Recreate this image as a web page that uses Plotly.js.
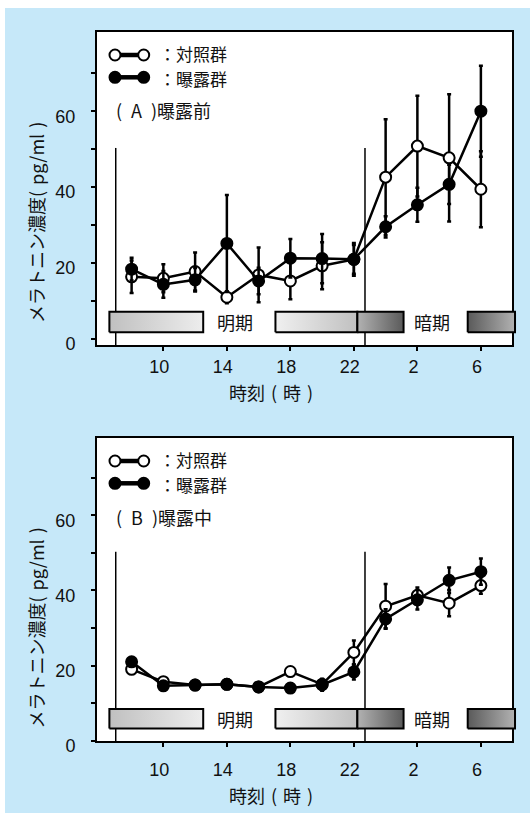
<!DOCTYPE html>
<html>
<head>
<meta charset="utf-8">
<script src="https://cdn.plot.ly/plotly-3.0.1.min.js"></script>
<style>
  html, body { margin: 0; padding: 0; background: #ffffff; }
  #chart { width: 530px; height: 813px; }
</style>
</head>
<body>
<div id="chart"></div>
<script>
// Sampling times on a continuous clock scale (24 = 0時, 26 = 2時, ...)
const hours = [8, 10, 12, 14, 16, 18, 20, 22, 24, 26, 28, 30];
const hourTicks = [10, 14, 18, 22, 26, 30];
const hourTickText = ['10', '14', '18', '22', '2', '6'];
const concTicks = [0, 10, 20, 30, 40, 50, 60, 70];
const concTickText = ['0', '', '20', '', '40', '', '60', ''];

// (A) 曝露前 : melatonin, pg/ml (mean and error)
const preControl   = [16.3, 15.9, 17.7, 10.9, 16.8, 15.2, 19.2, 20.9, 42.6, 50.8, 47.7, 39.4];
const preControlSD = [4.3, 3.7, 5.0, 1.6, 7.2, 4.8, 6.2, 3.8, 15.3, 13.3, 16.8, 10.0];
const preExposed   = [18.3, 14.3, 15.5, 25.1, 15.2, 21.2, 21.1, 20.9, 29.5, 35.3, 40.7, 60.0];
const preExposedSD = [3.0, 3.5, 3.1, 12.8, 3.5, 5.1, 6.5, 4.3, 2.8, 4.5, 5.2, 12.0];

// (B) 曝露中
const durControl   = [19.0, 15.7, 14.8, 15.0, 14.3, 18.4, 15.0, 23.5, 35.8, 38.7, 36.6, 41.3];
const durControlSD = [0.8, 0.8, 0.6, 0.6, 0.6, 0.8, 0.8, 3.2, 5.9, 2.1, 3.5, 2.2];
const durExposed   = [21.0, 14.6, 14.8, 15.0, 14.3, 14.0, 14.9, 18.3, 32.4, 37.5, 42.7, 45.0];
const durExposedSD = [0.8, 0.6, 0.6, 0.6, 0.6, 0.6, 1.6, 2.0, 2.6, 2.6, 3.4, 3.5];

// Light schedule markers (clock hours)
const lightsOn = 7.0;
const lightsOff = 22.7;

// ---------------------------------------------------------------- layout
const W = 530, H = 813;
const BLUE = '#c6e8f9';
const INK = '#111111';
const NUM_FONT = 'Liberation Sans, Arial, sans-serif';
const JP_FONT = 'Noto Sans CJK JP, sans-serif';
const SP = '\u2004';    // narrow space around the brackets
const ESP = '\u2002';   // wider space inside the panel tags

const frameLeft = 97, frameRight = 512;
const xRange = [5.82, 31.96];
const xDomain = [frameLeft / W, frameRight / W];

const panels = [
  { top: 32, bottom: 345, yRange: [-1.7, 80.9], tag: '(' + ESP + 'A' + ESP + ')曝露前',
    control: preControl, controlSD: preControlSD, exposed: preExposed, exposedSD: preExposedSD,
    xStandoff: 0, legendY: [55, 77.3], tagY: 110, yTitleY: 222.5, xTitleY: 391.7 },
  { top: 438, bottom: 741, yRange: [-0.1, 80.6], tag: '(' + ESP + 'B' + ESP + ')曝露中',
    control: durControl, controlSD: durControlSD, exposed: durExposed, exposedSD: durExposedSD,
    xStandoff: 7, legendY: [461, 483.3], tagY: 516.7, yTitleY: 628, xTitleY: 795 }
];

// light / dark bars: [start hour, end hour, left colour, right colour]
const phaseBars = [
  [6.60, 12.51, '#c0c0c0', '#ededed'],
  [17.06, 22.22, '#f0f0f0', '#c0c0c0'],
  [22.22, 25.13, '#b2b2b2', '#5a5a5a'],
  [29.17, 32.15, '#5a5a5a', '#b2b2b2']
];
const barBottom = 0.041, barTop = 0.106;   // fraction of panel height

function stretch(range, domain) {
  const k = (range[1] - range[0]) / (domain[1] - domain[0]);
  return [range[0] - domain[0] * k, range[1] + (1 - domain[1]) * k];
}

const traces = [];
const shapes = [];
const annotations = [];
const layout = {
  width: W, height: H,
  margin: { l: 0, r: 0, t: 0, b: 0, pad: 0 },
  paper_bgcolor: '#ffffff',
  plot_bgcolor: 'rgba(0,0,0,0)',
  showlegend: false,
  hovermode: false
};

// page background
shapes.push({ type: 'rect', xref: 'paper', yref: 'paper', x0: 5 / W, x1: 1, y0: 0, y1: 1 - 8 / H,
  fillcolor: BLUE, line: { width: 0 }, layer: 'below' });

// band and pixel helper axes spanning the whole page
layout.xaxis3 = { domain: [0, 1], range: stretch(xRange, xDomain), visible: false, anchor: 'y3', fixedrange: true };
layout.xaxis4 = { domain: [0, 1], range: [0, W], visible: false, anchor: 'y5', fixedrange: true };
layout.yaxis5 = { domain: [0, 1], range: [H, 0], visible: false, anchor: 'x4', fixedrange: true };

function series(vals, sd, fill, xa, ya, name) {
  return {
    type: 'scatter', mode: 'lines+markers', name: name,
    x: hours, y: vals, xaxis: xa, yaxis: ya,
    line: { color: '#000', width: 2.5 },
    marker: { size: 11, color: fill, line: { color: '#000', width: 2 } },
    error_y: { type: 'data', array: sd, visible: true, color: '#000', thickness: 2.5, width: 2 },
    cliponaxis: false, hoverinfo: 'skip'
  };
}

panels.forEach((p, i) => {
  const s = i === 0 ? '' : '2';
  const xa = 'x' + s, ya = 'y' + s;
  const yDomain = [1 - p.bottom / H, 1 - p.top / H];

  layout['xaxis' + s] = {
    domain: xDomain, range: xRange, anchor: ya,
    tickmode: 'array', tickvals: hourTicks, ticktext: hourTickText,
    ticks: 'outside', ticklen: 4, tickwidth: 2, tickcolor: '#000',
    ticklabelstandoff: p.xStandoff, ticklabelshift: -4,
    showline: true, mirror: true, linewidth: 2, linecolor: '#000',
    showgrid: false, zeroline: false, fixedrange: true,
    tickfont: { family: NUM_FONT, size: 18, color: INK }
  };
  layout['yaxis' + s] = {
    domain: yDomain, range: p.yRange, anchor: xa,
    tickmode: 'array', tickvals: concTicks, ticktext: concTickText,
    ticks: 'outside', ticklen: 4, tickwidth: 2, tickcolor: '#000',
    ticklabelstandoff: 12, ticklabelshift: 5,
    showline: true, mirror: true, linewidth: 2, linecolor: '#000',
    showgrid: false, zeroline: false, fixedrange: true,
    tickfont: { family: NUM_FONT, size: 18, color: INK }
  };

  // white plot area
  shapes.push({ type: 'rect', xref: 'paper', yref: 'paper',
    x0: xDomain[0], x1: xDomain[1], y0: yDomain[0], y1: yDomain[1],
    fillcolor: '#ffffff', line: { width: 0 }, layer: 'below' });

  // lights-on / lights-off markers
  [lightsOn, lightsOff].forEach(h => {
    shapes.push({ type: 'line', xref: xa, yref: ya, x0: h, x1: h, y0: p.yRange[0], y1: 50.3,
      line: { color: '#000', width: 1.5 }, layer: 'below' });
  });

  traces.push(series(p.control, p.controlSD, '#ffffff', xa, ya, '対照群'));
  traces.push(series(p.exposed, p.exposedSD, '#000000', xa, ya, '曝露群'));

  // light/dark bars on a page-wide axis sharing the hour scale
  const bandY = 'y' + (3 + i);
  layout['yaxis' + (3 + i)] = { domain: [0, 1], range: stretch([0, 1], yDomain), visible: false,
    anchor: 'x3', fixedrange: true };
  phaseBars.forEach(b => {
    traces.push({
      type: 'scatter', mode: 'lines', xaxis: 'x3', yaxis: bandY,
      x: [b[0], b[1], b[1], b[0], b[0]],
      y: [barBottom, barBottom, barTop, barTop, barBottom],
      fill: 'toself',
      fillgradient: { type: 'horizontal', colorscale: [[0, b[2]], [1, b[3]]] },
      line: { color: '#000', width: 2 }, hoverinfo: 'skip'
    });
  });
  annotations.push({ xref: 'x3', yref: bandY, x: 14.52, y: (barBottom + barTop) / 2, text: '明期',
    showarrow: false, font: { family: JP_FONT, size: 18, color: INK } });
  annotations.push({ xref: 'x3', yref: bandY, x: 26.95, y: (barBottom + barTop) / 2, text: '暗期',
    showarrow: false, font: { family: JP_FONT, size: 18, color: INK } });

  // legend key: glyph rows with their labels
  const mid = (p.legendY[0] + p.legendY[1]) / 2;
  [['#ffffff', '：対照群', mid - 12.6], ['#000000', '：曝露群', mid + 12.6]].forEach((k, j) => {
    traces.push({
      type: 'scatter', mode: 'lines+markers', xaxis: 'x4', yaxis: 'y5',
      x: [115, 143.7], y: [p.legendY[j], p.legendY[j]],
      line: { color: '#000', width: 4.5 },
      marker: { size: 11, color: k[0], line: { color: '#000', width: 2 } },
      hoverinfo: 'skip'
    });
    annotations.push({ xref: 'x4', yref: 'y5', x: 158, y: k[2], xanchor: 'left', yanchor: 'middle',
      text: k[1], showarrow: false, borderpad: 0, font: { family: JP_FONT, size: 17, color: INK } });
  });

  annotations.push({ xref: 'x4', yref: 'y5', x: 114, y: p.tagY, xanchor: 'left', yanchor: 'middle',
    text: p.tag, showarrow: false, font: { family: JP_FONT, size: 18, color: INK } });

  // axis titles
  annotations.push({ xref: 'x4', yref: 'y5', x: 35.5, y: p.yTitleY, textangle: -90,
    text: 'メラトニン濃度(' + SP + 'pg/ml' + SP + ')', showarrow: false,
    font: { family: JP_FONT, size: 18, color: INK } });
  annotations.push({ xref: 'x4', yref: 'y5', x: 270.5, y: p.xTitleY,
    text: '時刻' + SP + '(' + SP + '時' + SP + ')', showarrow: false,
    font: { family: JP_FONT, size: 18, color: INK } });
});

layout.shapes = shapes;
layout.annotations = annotations;

Plotly.newPlot('chart', traces, layout, { staticPlot: true, displayModeBar: false });
</script>
</body>
</html>
